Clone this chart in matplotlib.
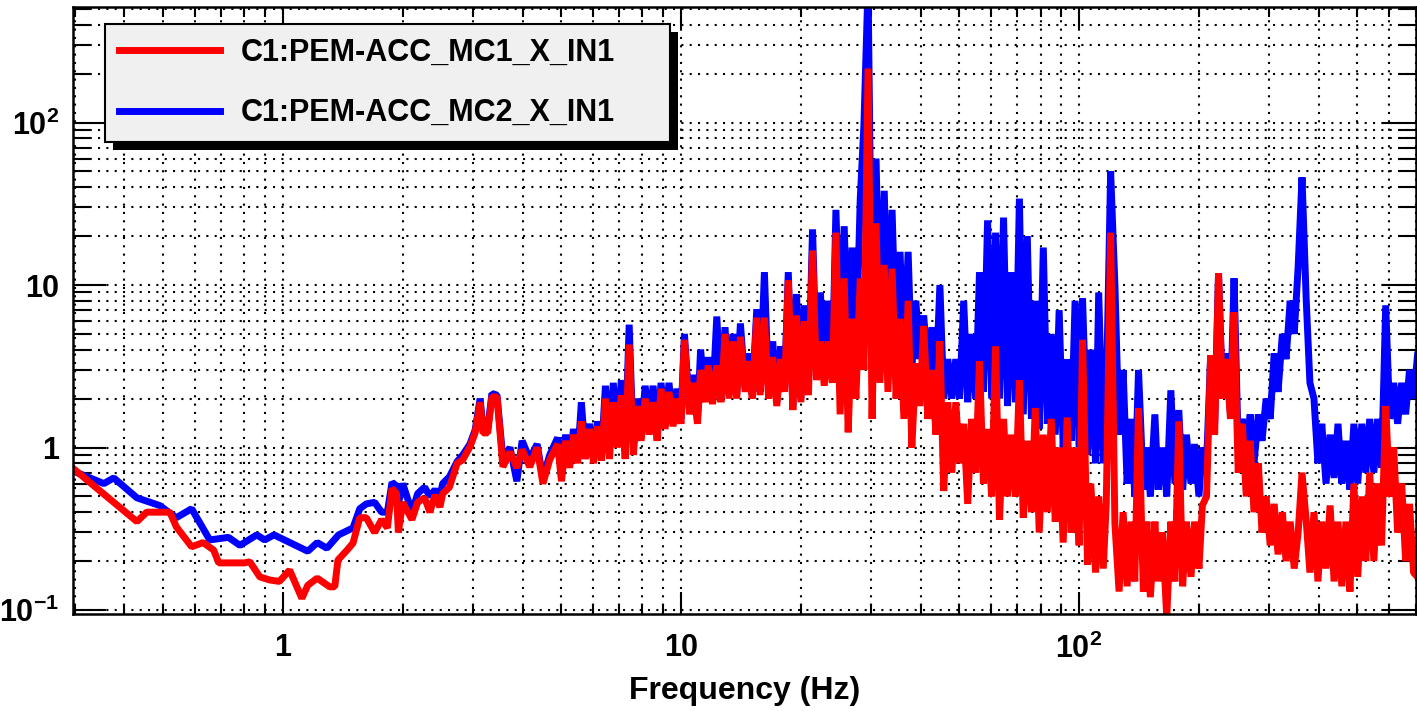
import matplotlib.pyplot as plt
from matplotlib.patches import Rectangle
from matplotlib.ticker import LogLocator, NullFormatter

plt.rcParams['font.family'] = ['Liberation Sans', 'DejaVu Sans']
plt.rcParams['font.weight'] = 'bold'
plt.rcParams['mathtext.fontset'] = 'custom'
plt.rcParams['mathtext.rm'] = 'Liberation Sans:bold'
plt.rcParams['mathtext.bf'] = 'Liberation Sans:bold'
plt.rcParams['mathtext.it'] = 'Liberation Sans:bold'

labels = ["C1:PEM-ACC_MC1_X_IN1", "C1:PEM-ACC_MC2_X_IN1"]

# 0.3 - 1.6 Hz, read separately for each channel
f_low_mc1 = [0.30, 0.33, 0.376, 0.43, 0.455, 0.52, 0.54, 0.59, 0.63, 0.67,
             0.69, 0.80, 0.826, 0.875, 0.927, 0.98, 1.04, 1.116, 1.155, 1.22,
             1.31, 1.35, 1.375, 1.45, 1.50, 1.56]
asd_low_mc1 = [0.73, 0.60, 0.46, 0.35, 0.40, 0.40, 0.325, 0.245, 0.26, 0.234,
               0.195, 0.195, 0.198, 0.16, 0.153, 0.15, 0.176, 0.118, 0.142, 0.157,
               0.139, 0.139, 0.203, 0.234, 0.258, 0.37]
f_low_mc2 = [0.30, 0.355, 0.376, 0.43, 0.49, 0.54, 0.59, 0.655, 0.73, 0.78,
             0.86, 0.90, 0.95, 1.155, 1.22, 1.29, 1.38, 1.50, 1.56]
asd_low_mc2 = [0.71, 0.60, 0.65, 0.49, 0.44, 0.37, 0.42, 0.27, 0.28, 0.25,
               0.29, 0.27, 0.29, 0.23, 0.26, 0.24, 0.29, 0.32, 0.42]

# 1.6 - 4.7 Hz
f_mid = [1.62, 1.70, 1.77, 1.83, 1.88, 1.93, 1.95, 2.00, 2.11, 2.18,
         2.27, 2.34, 2.41, 2.48, 2.52, 2.62, 2.74, 2.83, 2.95, 3.04,
         3.13, 3.18, 3.27, 3.35, 3.45, 3.57, 3.72, 3.87, 3.99, 4.17,
         4.35, 4.50, 4.68]
asd_mid_mc1 = [0.37, 0.30, 0.36, 0.32, 0.56, 0.52, 0.30, 0.46, 0.36, 0.46,
               0.49, 0.40, 0.51, 0.43, 0.52, 0.57, 0.80, 0.84, 1.01, 1.23,
               1.9, 1.23, 1.23, 2.05, 2.05, 0.76, 0.94, 0.75, 0.97, 0.76,
               1.0, 0.60, 0.84]
asd_mid_mc2 = [0.45, 0.46, 0.40, 0.40, 0.61, 0.58, 0.45, 0.60, 0.40, 0.52,
               0.57, 0.50, 0.55, 0.50, 0.60, 0.66, 0.82, 0.90, 1.05, 1.28,
               2.0, 1.3, 1.3, 2.15, 2.1, 0.85, 1.0, 0.62, 1.1, 0.85,
               1.05, 0.65, 0.9]

# 4.9 - 708 Hz
f_hi = [4.90, 5.01, 5.13, 5.25, 5.37, 5.50, 5.62, 5.75, 5.89, 6.03,
        6.17, 6.31, 6.46, 6.61, 6.76, 6.92, 7.08, 7.24, 7.41, 7.59,
        7.76, 7.94, 8.13, 8.32, 8.51, 8.71, 8.91, 9.12, 9.33, 9.55,
        9.77, 10.0, 10.2, 10.5, 10.7, 11.0, 11.2, 11.5, 11.7, 12.0,
        12.3, 12.6, 12.9, 13.2, 13.5, 13.8, 14.1, 14.5, 14.8, 15.1,
        15.5, 15.8, 16.2, 16.6, 17.0, 17.4, 17.8, 18.2, 18.6, 19.1,
        19.5, 20.0, 20.4, 20.9, 21.4, 21.9, 22.4, 22.9, 23.4, 24.0,
        24.5, 25.1, 25.7, 26.3, 26.9, 27.5, 28.2, 28.8, 29.5, 30.2,
        30.9, 31.6, 32.4, 33.1, 33.9, 34.7, 35.5, 36.3, 37.2, 38.0,
        38.9, 39.8, 40.7, 41.7, 42.7, 43.7, 44.7, 45.7, 46.8, 47.9,
        49.0, 50.1, 51.3, 52.5, 53.7, 55.0, 56.2, 57.5, 58.9, 60.3,
        61.7, 63.1, 64.6, 66.1, 67.6, 69.2, 70.8, 72.4, 74.1, 75.9,
        77.6, 79.4, 81.3, 83.2, 85.1, 87.1, 89.1, 91.2, 93.3, 95.5,
        97.7, 100, 102, 105, 107, 110, 112, 115, 117, 120,
        123, 126, 129, 132, 135, 138, 141, 145, 148, 151,
        155, 158, 162, 166, 170, 174, 178, 182, 186, 191,
        195, 200, 204, 209, 214, 219, 224, 229, 234, 240,
        245, 251, 257, 263, 269, 275, 282, 288, 295, 302,
        309, 316, 324, 331, 339, 347, 355, 363, 372, 380,
        389, 398, 407, 417, 427, 437, 447, 457, 468, 479,
        490, 501, 513, 525, 537, 550, 562, 575, 589, 603,
        617, 631, 646, 661, 676, 692, 708]
asd_hi_mc1 = [1.05, 0.62, 1.1, 0.75, 1.2, 0.8, 1.45, 0.85, 1.3, 0.8,
              1.35, 0.83, 2.0, 0.85, 1.9, 1.0, 2.1, 0.85, 4.3, 0.9,
              1.8, 1.1, 2.0, 1.2, 1.9, 1.1, 2.3, 1.3, 2.2, 1.35,
              2.0, 1.4, 4.6, 1.6, 2.5, 1.4, 3.0, 1.9, 3.2, 1.85,
              3.2, 1.9, 5.0, 2.0, 4.5, 2.0, 4.8, 2.2, 3.4, 2.0,
              6.3, 2.1, 6.3, 2.0, 3.6, 1.8, 3.5, 2.2, 10.7, 1.7,
              6.5, 1.9, 6.0, 2.1, 16.3, 2.6, 4.5, 2.4, 4.5, 2.5,
              21, 1.6, 11, 1.24, 6.2, 2.0, 11, 3.0, 215, 1.5,
              24, 2.5, 13.3, 2.2, 12.6, 2.0, 6.2, 1.5, 8.0, 1.0,
              3.3, 1.8, 5.6, 1.5, 3.0, 1.2, 4.5, 0.54, 1.9, 0.7,
              1.9, 0.8, 1.4, 0.45, 1.5, 0.7, 3.4, 0.6, 1.3, 0.5,
              4.2, 0.36, 1.5, 0.5, 1.2, 0.5, 2.6, 0.37, 1.1, 0.4,
              1.75, 0.3, 1.2, 0.4, 1.5, 0.35, 1.0, 0.26, 1.53, 0.3,
              1.0, 0.25, 4.6, 0.19, 0.6, 0.17, 0.5, 0.18, 0.45, 21,
              0.34, 0.13, 0.4, 0.14, 0.35, 0.15, 1.75, 0.13, 0.35, 0.12,
              0.35, 0.15, 0.3, 0.09, 0.35, 0.15, 1.45, 0.14, 0.35, 0.16,
              0.35, 0.18, 0.44, 0.5, 3.7, 1.2, 11.8, 2.0, 3.5, 1.5,
              6.8, 0.7, 1.4, 0.5, 1.1, 0.4, 0.8, 0.3, 0.5, 0.25,
              0.45, 0.22, 0.4, 0.2, 0.35, 0.18, 0.3, 0.7, 0.35, 0.17,
              0.4, 0.15, 0.35, 0.18, 0.44, 0.15, 0.35, 0.14, 0.35, 0.13,
              0.6, 0.16, 0.5, 0.2, 0.7, 0.2, 0.6, 0.25, 1.8, 0.5,
              1.0, 0.3, 0.6, 0.2, 0.45, 0.17, 0.16]
asd_hi_mc2 = [1.15, 0.7, 1.2, 0.8, 1.3, 0.85, 1.9, 0.9, 1.4, 0.85,
              1.45, 0.9, 2.4, 0.95, 2.5, 1.1, 2.6, 0.95, 5.7, 1.0,
              2.0, 1.2, 2.4, 1.3, 2.4, 1.2, 2.5, 1.4, 2.5, 1.4,
              2.3, 1.5, 5.0, 1.7, 2.8, 1.5, 4.0, 2.0, 3.6, 1.9,
              6.4, 2.0, 5.5, 2.1, 5.0, 2.1, 5.8, 2.3, 3.8, 2.1,
              7.1, 2.2, 12, 2.1, 4.5, 1.9, 4.2, 2.4, 12, 1.8,
              8.8, 2.0, 7.5, 2.4, 22, 3.0, 9, 3.0, 8, 3.0,
              29, 4, 23, 3.5, 17, 3.5, 34, 95, 700, 5,
              60, 5, 38, 5, 29, 4, 16, 3.5, 16, 3.0,
              8, 3.5, 6.5, 3.0, 5.5, 2.5, 10, 2.0, 3.5, 2.0,
              3.5, 2.0, 8, 1.9, 5, 2.0, 12, 2.2, 25, 2.0,
              21, 2.0, 26, 1.8, 12, 1.9, 34, 1.6, 20, 1.5,
              8, 1.3, 17, 1.4, 5, 1.2, 7, 1.0, 3.5, 1.1,
              8, 1.0, 8.3, 0.9, 4, 0.8, 9, 0.8, 2.0, 50,
              10, 1.2, 3, 0.6, 1.5, 0.5, 3.0, 0.55, 1.0, 0.5,
              1.6, 0.55, 1.0, 0.5, 2.25, 0.6, 1.7, 0.55, 1.2, 0.6,
              1.05, 0.5, 1.0, 0.8, 3.7, 1.4, 11.8, 2.2, 3.8, 1.6,
              11, 1.0, 1.5, 1.0, 1.6, 0.8, 1.6, 1.1, 2.0, 1.5,
              3.8, 2.2, 5, 3.5, 8, 5, 13, 46, 8, 2.5,
              2.0, 0.8, 1.4, 0.6, 1.2, 0.65, 1.4, 0.6, 1.1, 0.55,
              1.4, 0.6, 1.4, 0.7, 1.5, 0.7, 1.5, 0.75, 7.5, 1.5,
              2.5, 1.4, 2.5, 1.6, 3.0, 2.0, 3.7]

f_mc1 = f_low_mc1 + f_mid + f_hi
asd_mc1 = asd_low_mc1 + asd_mid_mc1 + asd_hi_mc1
f_mc2 = f_low_mc2 + f_mid + f_hi
asd_mc2 = asd_low_mc2 + asd_mid_mc2 + asd_hi_mc2

fig = plt.figure(figsize=(14.17, 7.11), dpi=100)
ax = fig.add_axes([0.0515, 0.1364, 0.948, 0.8538])

l2, = ax.plot(f_mc2, asd_mc2, color=(0, 0, 1), lw=5, solid_joinstyle='bevel')
l1, = ax.plot(f_mc1, asd_mc1, color=(1, 0, 0), lw=5, solid_joinstyle='bevel')

ax.set_xscale('log')
ax.set_yscale('log')
ax.set_xlim(0.297, 703)
ax.set_ylim(0.0945, 514)

ax.set_xticks([1, 10, 100])
ax.set_xticklabels(['1', '10', r'$\mathbf{10^{2}}$'])
ax.set_yticks([0.1, 1, 10, 100])
ax.set_yticklabels([r'$\mathbf{10^{-1}}$', '1', '10', r'$\mathbf{10^{2}}$'])
ax.xaxis.set_minor_locator(LogLocator(base=10, subs=range(2, 10), numticks=20))
ax.yaxis.set_minor_locator(LogLocator(base=10, subs=range(2, 10), numticks=20))
ax.xaxis.set_minor_formatter(NullFormatter())
ax.yaxis.set_minor_formatter(NullFormatter())

ax.set_axisbelow(True)
ax.grid(True, which='both', color='black', linestyle=(0, (1, 3)), linewidth=1.5)

ax.tick_params(which='both', direction='in', top=True, right=True,
               width=1.5, labelsize=22, color='black')
ax.tick_params(axis='y', which='major', length=24, pad=10)
ax.tick_params(axis='y', which='minor', length=12)
ax.tick_params(axis='x', which='major', length=16, pad=14)
ax.tick_params(axis='x', which='minor', length=7)
for s in ax.spines.values():
    s.set_linewidth(1.8)

ax.set_xlabel('Frequency (Hz)', fontsize=23, fontweight='bold', labelpad=8)

leg = ax.legend([l1, l2], labels, loc='upper left',
                bbox_to_anchor=(0.0238, 0.972, 0.4207, 0.0), mode='expand',
                borderaxespad=0, prop={'size': 22, 'weight': 'bold'},
                handlelength=3.3, handletextpad=0.7, labelspacing=1.0,
                borderpad=0.45, fancybox=False, framealpha=1,
                facecolor='#f0f0f0', edgecolor='black')
leg.get_frame().set_linewidth(1.5)
for h in leg.legend_handles:
    h.set_linewidth(5)

# black drop shadow behind the legend box
fig.canvas.draw()
bb = leg.get_frame().get_window_extent(fig.canvas.get_renderer())
bb = bb.transformed(ax.transAxes.inverted())
shadow = Rectangle((bb.x0 + 8 / 1343, bb.y0 - 8 / 607), bb.width, bb.height,
                   transform=ax.transAxes, facecolor='black', edgecolor='none',
                   zorder=4.5, clip_on=False)
ax.add_patch(shadow)

fig.savefig('out.png', dpi=100)
